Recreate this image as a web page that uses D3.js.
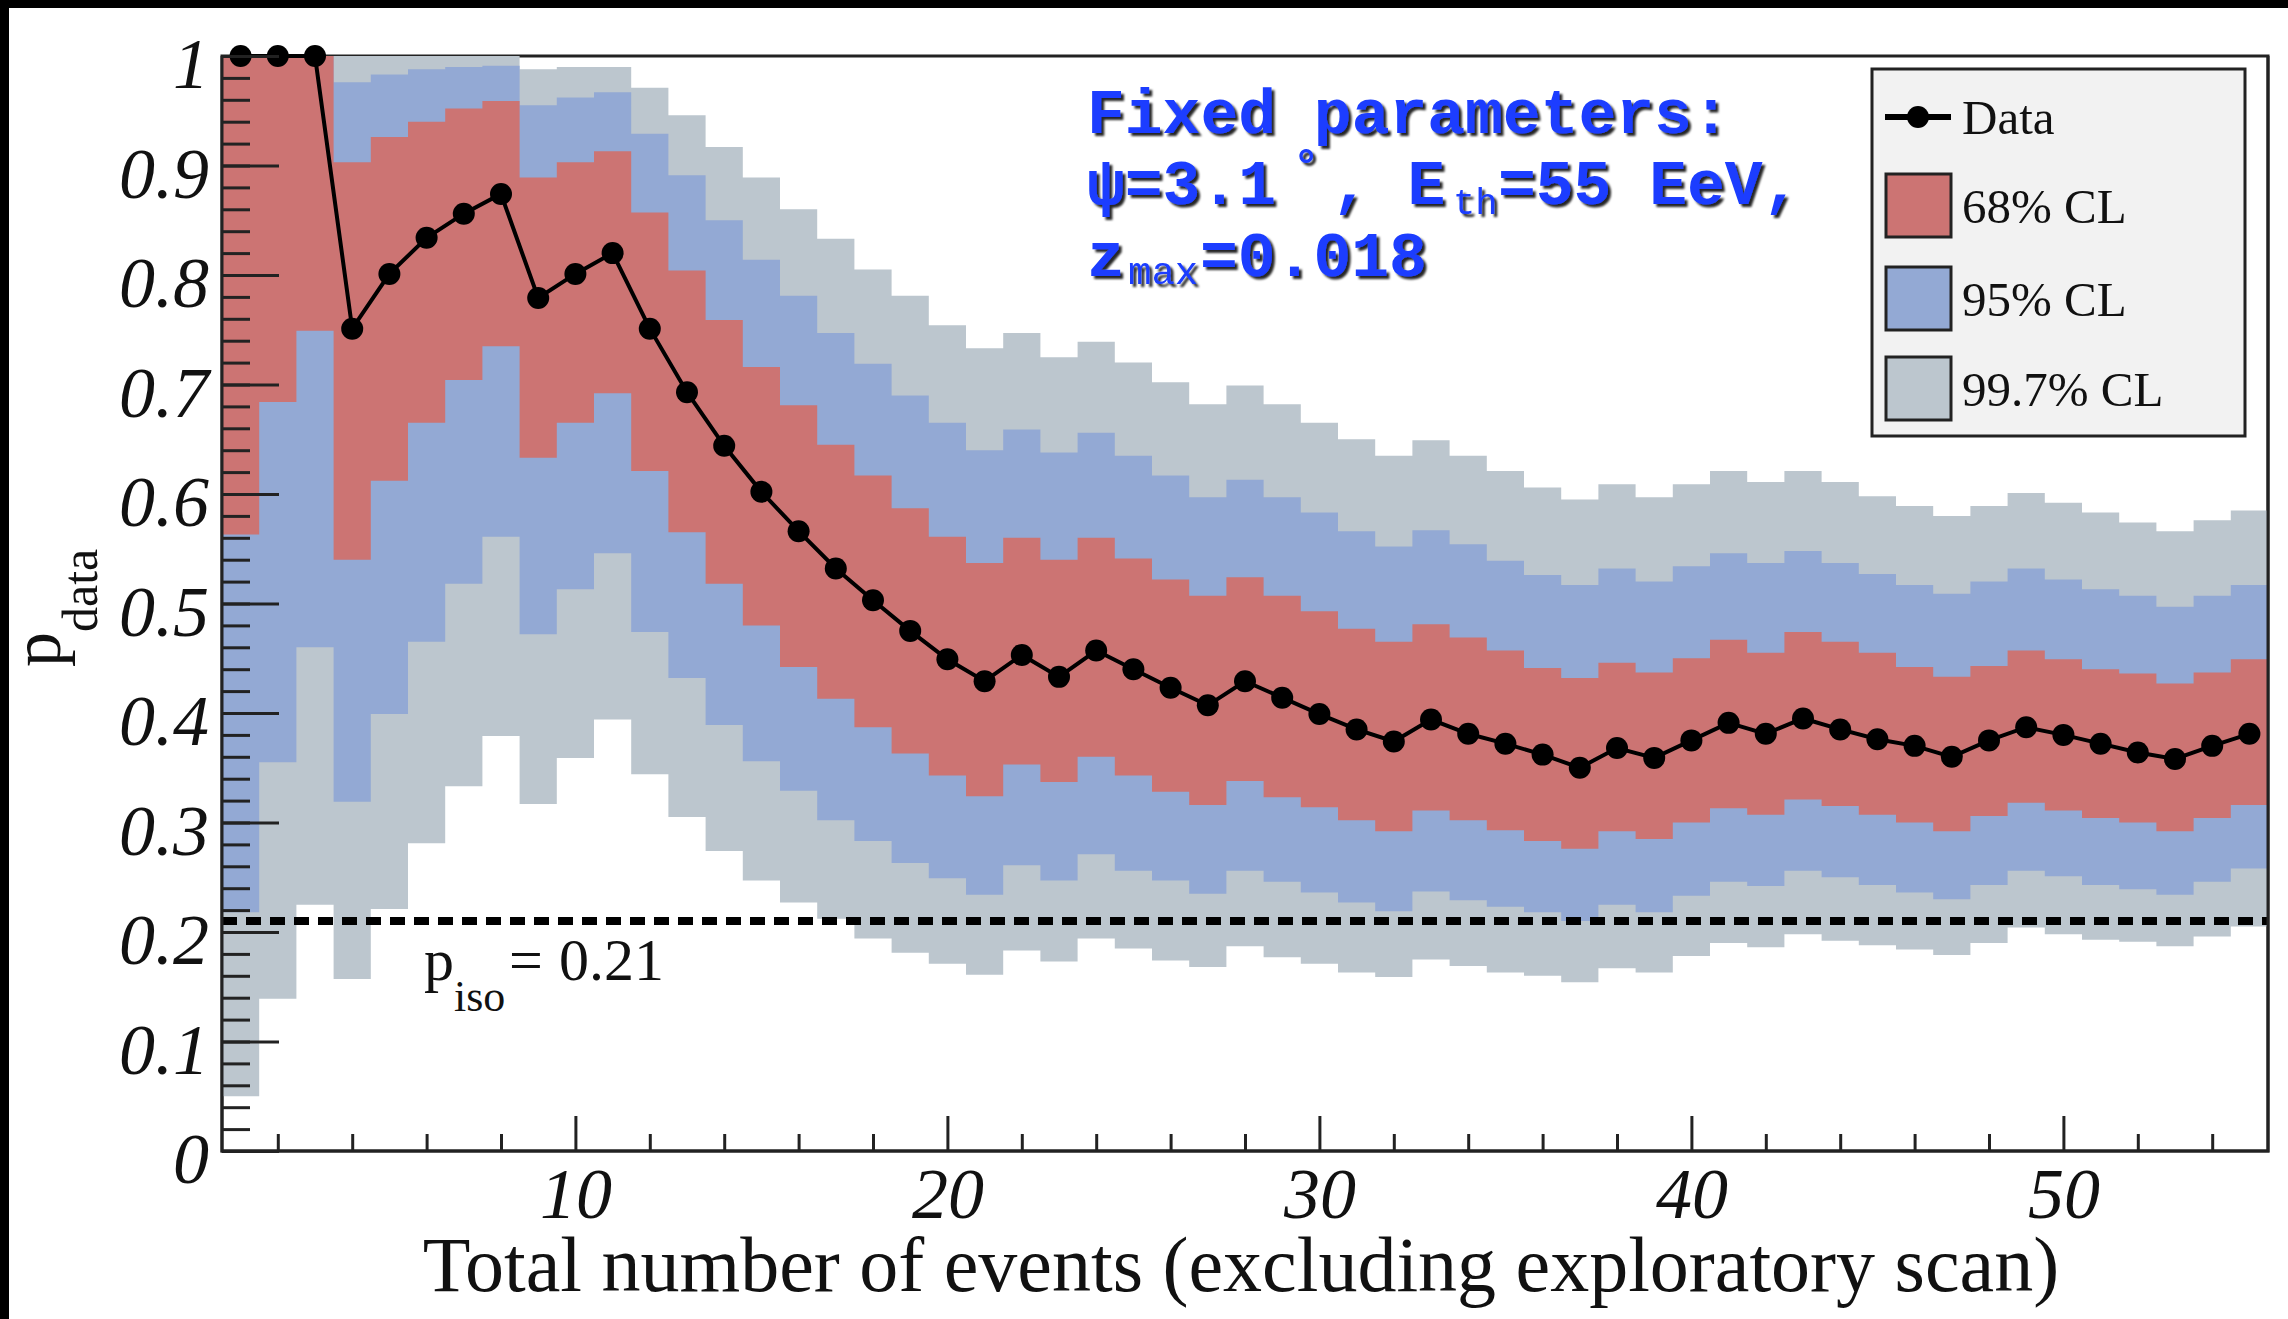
<!DOCTYPE html>
<html>
<head>
<meta charset="utf-8">
<script src="https://cdn.jsdelivr.net/npm/d3@7"></script>
<style>
  body { margin: 0; background: #fff; }
  svg { display: block; }
  text { font-family: "Liberation Serif", "Times New Roman", serif; }
  text.mono { font-family: "Courier New", "Liberation Mono", monospace; font-weight: bold; }
</style>
</head>
<body>
<svg id="chart"></svg>
<script>
var nEvents = [1,2,3,4,5,6,7,8,9,10,11,12,13,14,15,16,17,18,19,20,21,22,23,24,25,26,27,28,
  29,30,31,32,33,34,35,36,37,38,39,40,41,42,43,44,45,46,47,48,49,50,51,52,53,54,55];

var pData = [1,1,1,0.751,0.801,0.834,0.856,0.874,0.779,0.801,0.820,0.751,0.693,0.644,0.602,0.566,
  0.532,0.503,0.475,0.449,0.429,0.453,0.433,0.457,0.440,0.423,0.407,0.429,0.414,0.399,0.385,0.374,0.394,0.381,0.372,
  0.362,0.350,0.368,0.359,0.375,0.391,0.381,0.395,0.385,0.376,0.370,0.360,0.375,0.387,0.380,0.372,0.364,0.358,0.370,0.381];

// 68% CL band
var cl68Hi = [1,1,1,0.903,0.926,0.940,0.952,0.959,0.889,0.903,0.913,0.857,0.804,0.759,0.716,0.681,
  0.645,0.617,0.587,0.561,0.537,0.560,0.540,0.560,0.541,0.522,0.507,0.524,0.507,0.493,0.477,0.465,0.481,0.469,0.457,
  0.441,0.432,0.446,0.437,0.450,0.467,0.455,0.474,0.465,0.455,0.442,0.433,0.443,0.457,0.449,0.440,0.436,0.427,0.437,0.449];
var cl68Lo = [0.563,0.684,0.749,0.540,0.612,0.665,0.704,0.735,0.633,0.665,0.692,0.621,0.565,0.518,0.480,0.442,
  0.413,0.387,0.363,0.343,0.324,0.353,0.337,0.360,0.343,0.328,0.316,0.338,0.323,0.314,0.302,0.292,0.311,0.302,0.293,
  0.283,0.276,0.292,0.285,0.300,0.313,0.307,0.321,0.315,0.307,0.300,0.292,0.306,0.318,0.311,0.304,0.300,0.292,0.304,0.316];

// 95% CL band
var cl95Hi = [1,1,1,0.976,0.983,0.988,0.990,0.991,0.955,0.962,0.967,0.929,0.891,0.850,0.814,0.781,
  0.747,0.719,0.690,0.665,0.640,0.659,0.638,0.656,0.635,0.617,0.597,0.613,0.597,0.583,0.566,0.552,0.567,0.554,0.539,
  0.526,0.517,0.532,0.520,0.534,0.546,0.537,0.548,0.537,0.527,0.517,0.509,0.520,0.532,0.522,0.513,0.507,0.497,0.507,0.517];
var cl95Lo = [0.218,0.355,0.460,0.319,0.399,0.465,0.518,0.561,0.472,0.513,0.546,0.474,0.432,0.389,0.356,0.329,
  0.302,0.283,0.263,0.249,0.234,0.261,0.247,0.271,0.256,0.247,0.235,0.256,0.246,0.236,0.227,0.219,0.237,0.229,0.223,
  0.218,0.210,0.225,0.218,0.233,0.246,0.242,0.256,0.250,0.243,0.236,0.230,0.243,0.256,0.251,0.243,0.239,0.234,0.246,0.258];

// 99.7% CL band
var cl997Hi = [1,1,1,1,1,1,1,1,0.988,0.990,0.990,0.971,0.946,0.917,0.889,0.860,
  0.833,0.805,0.781,0.754,0.733,0.747,0.725,0.739,0.720,0.702,0.682,0.699,0.682,0.665,0.650,0.635,0.649,0.635,0.621,
  0.606,0.595,0.609,0.597,0.609,0.621,0.611,0.621,0.611,0.598,0.589,0.580,0.589,0.601,0.592,0.583,0.574,0.566,0.576,0.585];
var cl997Lo = [0.050,0.139,0.225,0.157,0.221,0.281,0.333,0.379,0.317,0.359,0.394,0.344,0.305,0.274,0.247,0.227,
  0.212,0.194,0.181,0.171,0.161,0.183,0.173,0.194,0.185,0.174,0.168,0.187,0.177,0.171,0.163,0.159,0.175,0.169,0.163,
  0.160,0.154,0.167,0.163,0.178,0.190,0.186,0.198,0.192,0.188,0.184,0.179,0.190,0.204,0.198,0.193,0.191,0.187,0.196,0.205];

var pIso = 0.21;

var xMajorTicks = [10,20,30,40,50];
var xMinorTicks = [2,4,6,8,12,14,16,18,22,24,26,28,32,34,36,38,42,44,46,48,52,54];
var yMajorTicks = [0,0.1,0.2,0.3,0.4,0.5,0.6,0.7,0.8,0.9,1];

var legendItems = ["Data", "68% CL", "95% CL", "99.7% CL"];


function stepBand(x, y, lo, hi){
  var pts = nEvents.map(function(n, i){ return {x: n - 0.5, lo: lo[i], hi: hi[i]}; });
  var last = nEvents.length - 1;
  pts.push({x: nEvents[last] + 0.5, lo: lo[last], hi: hi[last]});
  return d3.area()
    .curve(d3.curveStepAfter)
    .x(function(d){ return x(d.x); })
    .y0(function(d){ return y(d.lo); })
    .y1(function(d){ return y(d.hi); })(pts);
}


window.onload = function(){
  var W = 2288, H = 1319;
  var left = 222, right = 2268, top = 56, bottom = 1151;
  var red = "#cc7473", blue = "#93a9d4", gray = "#bcc6ce";

  var svg = d3.select("#chart").attr("width", W).attr("height", H);

  var defs = svg.append("defs");
  defs.append("filter").attr("id", "shadow")
      .attr("x", "-5%").attr("y", "-20%").attr("width", "110%").attr("height", "140%")
    .append("feDropShadow")
      .attr("dx", 3).attr("dy", 3).attr("stdDeviation", 1.3)
      .attr("flood-color", "#000").attr("flood-opacity", 0.85);

  // black edge at top and left of the picture
  svg.append("rect").attr("width", W).attr("height", H).attr("fill", "#000");
  svg.append("rect").attr("x", 9).attr("y", 8).attr("width", W - 9).attr("height", H - 8).attr("fill", "#fff");

  var x = d3.scaleLinear().domain([0.5, 55.5]).range([left, right]);
  var y = d3.scaleLinear().domain([0, 1]).range([bottom, top]);

  svg.append("rect")
    .attr("x", left).attr("y", top)
    .attr("width", right - left).attr("height", bottom - top)
    .attr("fill", "none").attr("stroke", "#222").attr("stroke-width", 3);

  svg.append("path").attr("d", stepBand(x, y, cl997Lo, cl997Hi)).attr("fill", gray);
  svg.append("path").attr("d", stepBand(x, y, cl95Lo, cl95Hi)).attr("fill", blue);
  svg.append("path").attr("d", stepBand(x, y, cl68Lo, cl68Hi)).attr("fill", red);

  // isotropic expectation
  svg.append("line")
    .attr("x1", left).attr("x2", right)
    .attr("y1", y(pIso)).attr("y2", y(pIso))
    .attr("stroke", "#000").attr("stroke-width", 8)
    .attr("stroke-dasharray", "15,9");

  var iso = svg.append("text")
    .attr("x", 424).attr("y", 980)
    .style("font-size", "60px").attr("fill", "#111");
  iso.append("tspan").text("p");
  iso.append("tspan").attr("dy", 31).style("font-size", "44px").text("iso");
  iso.append("tspan").attr("x", 509).attr("dy", -31).text("=");
  iso.append("tspan").attr("x", 559).text("0.21");

  // data line with markers
  var line = d3.line()
    .x(function(d, i){ return x(nEvents[i]); })
    .y(function(d){ return y(d); });

  svg.append("path")
    .attr("d", line(pData))
    .attr("fill", "none").attr("stroke", "#000").attr("stroke-width", 4);

  svg.selectAll("circle.pt")
    .data(pData)
    .enter()
    .append("circle")
    .attr("class", "pt")
    .attr("cx", function(d, i){ return x(nEvents[i]); })
    .attr("cy", function(d){ return y(d); })
    .attr("r", 11)
    .attr("fill", "#000");

  // axes, ticks pointing into the frame
  var yAxisMinor = d3.axisLeft(y)
    .tickValues(d3.range(0, 50).map(function(i){ return i / 50; }))
    .tickSizeInner(-28).tickSizeOuter(0).tickFormat("");
  var yAxisMajor = d3.axisLeft(y)
    .tickValues(yMajorTicks)
    .tickSizeInner(-57).tickSizeOuter(0).tickPadding(13)
    .tickFormat(d3.format(".1~f"));

  var gy1 = svg.append("g").attr("transform", "translate(" + left + ",0)").call(yAxisMinor);
  var gy2 = svg.append("g").attr("transform", "translate(" + left + ",0)").call(yAxisMajor);

  var xAxisMinor = d3.axisBottom(x).tickValues(xMinorTicks)
    .tickSizeInner(-17).tickSizeOuter(0).tickFormat("");
  var xAxisMajor = d3.axisBottom(x).tickValues(xMajorTicks)
    .tickSizeInner(-35).tickSizeOuter(0).tickPadding(18);

  var gx1 = svg.append("g").attr("transform", "translate(0," + bottom + ")").call(xAxisMinor);
  var gx2 = svg.append("g").attr("transform", "translate(0," + bottom + ")").call(xAxisMajor);

  [gy1, gy2, gx1, gx2].forEach(function(g){
    g.select(".domain").remove();
    g.selectAll(".tick line").attr("stroke", "#222").attr("stroke-width", 3);
    g.selectAll("text")
      .attr("fill", "#111")
      .style("font-family", "'Liberation Serif', 'Times New Roman', serif")
      .style("font-style", "italic")
      .style("font-size", "72px");
  });
  gy2.selectAll("text").attr("dy", "0.44em");
  gx2.selectAll("text").attr("dy", "0.68em");

  svg.append("path")
    .attr("d", "M" + left + "," + top + "V" + bottom + "H" + right + "V" + top)
    .attr("fill", "none").attr("stroke", "#222").attr("stroke-width", 3);

  // axis titles
  svg.append("text")
    .attr("x", (left + right) / 2 - 4).attr("y", 1291)
    .attr("text-anchor", "middle")
    .style("font-size", "78px").attr("fill", "#111")
    .text("Total number of events (excluding exploratory scan)");

  var yt = svg.append("text")
    .attr("transform", "translate(60,667) rotate(-90)")
    .style("font-size", "70px").attr("fill", "#111");
  yt.append("tspan").text("p");
  yt.append("tspan").attr("dy", 37).style("font-size", "50px").text("data");

  // fixed parameter note
  var note = svg.append("g")
    .attr("filter", "url(#shadow)")
    .attr("fill", "#1a3cff");

  note.append("text").attr("class", "mono").attr("x", 1087).attr("y", 133)
    .style("font-size", "63px").text("Fixed parameters:");

  var l2 = note.append("text").attr("class", "mono").attr("x", 1087).attr("y", 204).style("font-size", "63px");
  l2.append("tspan").text("\u03c8=3.1");
  l2.append("tspan").attr("x", 1293).attr("dy", -24).style("font-size", "44px").text("\u00b0");
  l2.append("tspan").attr("x", 1332).attr("dy", 24).text(", E");
  l2.append("tspan").attr("x", 1453).attr("dy", 10).style("font-size", "37px").style("font-weight", "normal").text("th");
  l2.append("tspan").attr("x", 1498).attr("dy", -10).text("=55 EeV,");

  var l3 = note.append("text").attr("class", "mono").attr("x", 1087).attr("y", 276).style("font-size", "63px");
  l3.append("tspan").text("z");
  l3.append("tspan").attr("x", 1128).attr("dy", 8).style("font-size", "39px").style("font-weight", "normal").text("max");
  l3.append("tspan").attr("x", 1200).attr("dy", -8).text("=0.018");

  // legend
  var lg = svg.append("g");
  lg.append("rect")
    .attr("x", 1872).attr("y", 69).attr("width", 373).attr("height", 367)
    .attr("fill", "#f2f2f2").attr("stroke", "#222").attr("stroke-width", 3);

  var rowY = [117, 206, 299, 389];
  var swatch = [null, red, blue, gray];

  lg.append("line")
    .attr("x1", 1885).attr("x2", 1951).attr("y1", rowY[0]).attr("y2", rowY[0])
    .attr("stroke", "#000").attr("stroke-width", 6);
  lg.append("circle").attr("cx", 1918).attr("cy", rowY[0]).attr("r", 11).attr("fill", "#000");

  lg.selectAll("rect.sw")
    .data(legendItems.slice(1))
    .enter()
    .append("rect")
    .attr("class", "sw")
    .attr("x", 1886)
    .attr("y", function(d, i){ return rowY[i + 1] - 32; })
    .attr("width", 65).attr("height", 63)
    .attr("fill", function(d, i){ return swatch[i + 1]; })
    .attr("stroke", "#222").attr("stroke-width", 3);

  lg.selectAll("text.lab")
    .data(legendItems)
    .enter()
    .append("text")
    .attr("class", "lab")
    .attr("x", 1962)
    .attr("y", function(d, i){ return rowY[i] + 17; })
    .style("font-size", "49px").attr("fill", "#111")
    .text(function(d){ return d; });
};
</script>
</body>
</html>
